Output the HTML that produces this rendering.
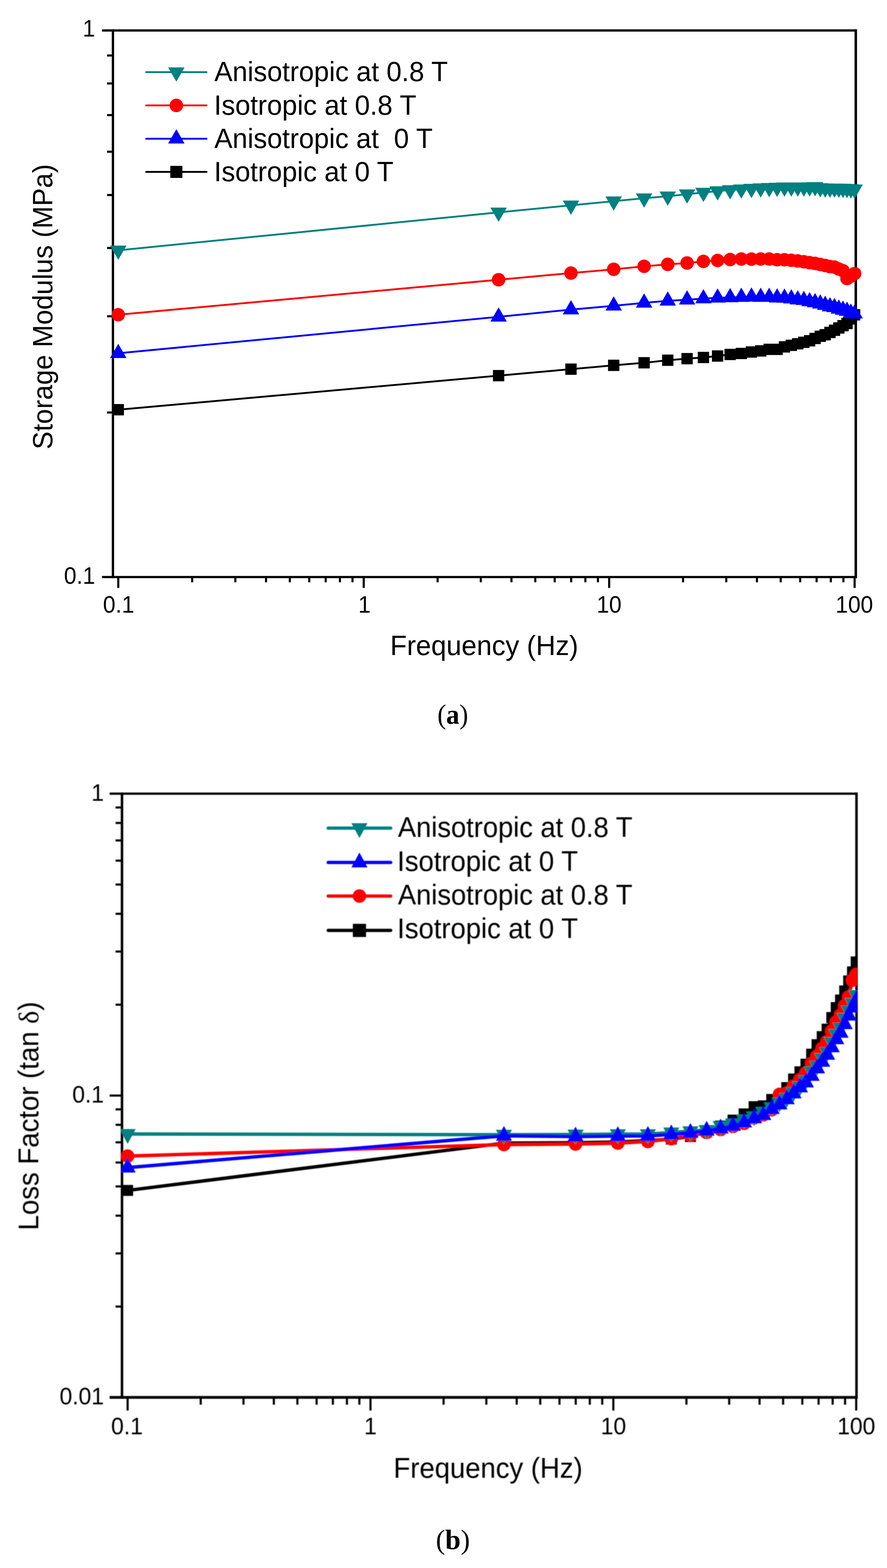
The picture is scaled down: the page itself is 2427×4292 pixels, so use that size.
<!DOCTYPE html>
<html lang="en">
<head>
<meta charset="utf-8">
<title>Storage modulus and loss factor versus frequency</title>
<style>
html,body{margin:0;padding:0;background:#fff;}
body{width:2427px;height:4292px;overflow:hidden;}
svg{display:block;}
svg text{font-family:"Liberation Sans",Arial,Helvetica,sans-serif;fill:#000;}
svg text.cap{font-family:"Liberation Serif","DejaVu Serif",serif;}
svg text.cap tspan{font-weight:bold;}
svg tspan.sym{font-family:"Liberation Serif","DejaVu Serif",serif;}
</style>
</head>
<body>
<svg width="2427" height="4292" viewBox="0 0 2427 4292">
<g id="figa">
<g fill="#000"><rect x="305.8" y="80.3" width="6.4" height="1502.2"/><rect x="2338.2" y="80.3" width="6.8" height="1502.2"/><rect x="279" y="80.3" width="2066" height="6.2"/><rect x="279" y="1576.5" width="2066" height="6"/><rect x="293" y="1126.2" width="16" height="5.8"/><rect x="293" y="862.8" width="16" height="5.8"/><rect x="293" y="675.9" width="16" height="5.8"/><rect x="293" y="530.9" width="16" height="5.8"/><rect x="293" y="412.4" width="16" height="5.8"/><rect x="293" y="312.2" width="16" height="5.8"/><rect x="293" y="225.5" width="16" height="5.8"/><rect x="293" y="149" width="16" height="5.8"/><rect x="320.7" y="1579.5" width="5.8" height="29.9"/><rect x="522.9" y="1579.5" width="5.8" height="14.3"/><rect x="641.1" y="1579.5" width="5.8" height="14.3"/><rect x="725" y="1579.5" width="5.8" height="14.3"/><rect x="790.1" y="1579.5" width="5.8" height="14.3"/><rect x="843.3" y="1579.5" width="5.8" height="14.3"/><rect x="888.3" y="1579.5" width="5.8" height="14.3"/><rect x="927.2" y="1579.5" width="5.8" height="14.3"/><rect x="961.6" y="1579.5" width="5.8" height="14.3"/><rect x="992.3" y="1579.5" width="5.8" height="29.9"/><rect x="1194.5" y="1579.5" width="5.8" height="14.3"/><rect x="1312.7" y="1579.5" width="5.8" height="14.3"/><rect x="1396.6" y="1579.5" width="5.8" height="14.3"/><rect x="1461.7" y="1579.5" width="5.8" height="14.3"/><rect x="1514.9" y="1579.5" width="5.8" height="14.3"/><rect x="1559.9" y="1579.5" width="5.8" height="14.3"/><rect x="1598.8" y="1579.5" width="5.8" height="14.3"/><rect x="1633.2" y="1579.5" width="5.8" height="14.3"/><rect x="1663.9" y="1579.5" width="5.8" height="29.9"/><rect x="1866.1" y="1579.5" width="5.8" height="14.3"/><rect x="1984.3" y="1579.5" width="5.8" height="14.3"/><rect x="2068.2" y="1579.5" width="5.8" height="14.3"/><rect x="2133.3" y="1579.5" width="5.8" height="14.3"/><rect x="2186.5" y="1579.5" width="5.8" height="14.3"/><rect x="2231.5" y="1579.5" width="5.8" height="14.3"/><rect x="2270.4" y="1579.5" width="5.8" height="14.3"/><rect x="2304.8" y="1579.5" width="5.8" height="14.3"/><rect x="2335.5" y="1579.5" width="5.8" height="29.9"/></g>
<text transform="translate(226.29,100.4) scale(0.961,1)" font-size="64">1</text>
<text transform="translate(175,1597.5) scale(0.961,1)" font-size="64">0.1</text>
<text transform="translate(281.85,1676.8) scale(0.961,1)" font-size="64">0.1</text>
<text transform="translate(980.2,1676.8) scale(0.961,1)" font-size="64">1</text>
<text transform="translate(1632.39,1676.8) scale(0.961,1)" font-size="64">10</text>
<text transform="translate(2286.29,1676.8) scale(0.961,1)" font-size="64">100</text>
<text transform="translate(142.8,1230.31) rotate(-90) scale(0.9659,1)" font-size="76.6">Storage Modulus (MPa)</text>
<text transform="translate(1067.56,1792.8) scale(0.9757,1)" font-size="76.6">Frequency (Hz)</text>
<text transform="translate(586.4,222.1) scale(0.9707,1)" font-size="76.6">Anisotropic at 0.8 T</text>
<text transform="translate(585.48,313.7) scale(0.973,1)" font-size="76.6">Isotropic at 0.8 T</text>
<text transform="translate(586.4,405) scale(0.9701,1)" font-size="76.6" xml:space="preserve">Anisotropic at  0 T</text>
<text transform="translate(585.48,496.3) scale(0.9723,1)" font-size="76.6">Isotropic at 0 T</text>
<polyline points="323.6,1121.4 1364.3,1028.2 1562.3,1010.4 1679.2,1000.1 1762.4,993.1 1827.1,986.1 1880,981.8 1924.7,978.5 1963.5,974.4 1997.8,970.3 2028.4,967.6 2056.1,963.5 2081.4,960.4 2104.7,956.2 2126.3,956.2 2146.4,949.5 2165.2,945.2 2182.8,941 2199.5,936.9 2215.2,932.8 2230.2,926.6 2244.4,920.4 2257.9,916.3 2270.9,910.1 2283.3,904 2295.2,897.8 2306.6,891.6 2317.6,885.4 2328.2,873 2338.4,861.7" fill="none" stroke="#000000" stroke-width="5" stroke-linejoin="round"/>
<path d="M308.1 1105.9h31v31h-31ZM1348.8 1012.7h31v31h-31ZM1546.8 994.9h31v31h-31ZM1663.7 984.6h31v31h-31ZM1746.9 977.6h31v31h-31ZM1811.6 970.6h31v31h-31ZM1864.5 966.3h31v31h-31ZM1909.2 963h31v31h-31ZM1948 958.9h31v31h-31ZM1982.3 954.8h31v31h-31ZM2012.9 952.1h31v31h-31ZM2040.6 948h31v31h-31ZM2065.9 944.9h31v31h-31ZM2089.2 940.7h31v31h-31ZM2110.8 940.7h31v31h-31ZM2130.9 934h31v31h-31ZM2149.7 929.7h31v31h-31ZM2167.3 925.5h31v31h-31ZM2184 921.4h31v31h-31ZM2199.7 917.3h31v31h-31ZM2214.7 911.1h31v31h-31ZM2228.9 904.9h31v31h-31ZM2242.4 900.8h31v31h-31ZM2255.4 894.6h31v31h-31ZM2267.8 888.5h31v31h-31ZM2279.7 882.3h31v31h-31ZM2291.1 876.1h31v31h-31ZM2302.1 869.9h31v31h-31ZM2312.7 857.5h31v31h-31ZM2322.9 846.2h31v31h-31Z" fill="#000000"/>
<polyline points="323.6,967 1364.3,867.2 1562.3,847.4 1679.2,837.1 1762.4,828.9 1827.1,823.5 1880,820.5 1924.7,817.3 1963.5,815.2 1997.8,814.2 2028.4,813.3 2056.1,812.5 2081.4,813.3 2104.7,813.3 2126.3,815 2146.4,815.6 2165.2,817.6 2182.8,820.3 2199.5,821.8 2215.2,825.3 2230.2,828 2244.4,831.4 2257.9,835.2 2270.9,839.3 2283.3,841.3 2295.2,845.5 2306.6,848.5 2317.6,851.6 2328.2,856.8 2338.4,858.8" fill="none" stroke="#0000ff" stroke-width="5" stroke-linejoin="round"/>
<path d="M301.1 980L346.1 980L323.6 941ZM1341.8 880.2L1386.8 880.2L1364.3 841.2ZM1539.8 860.4L1584.8 860.4L1562.3 821.4ZM1656.7 850.1L1701.7 850.1L1679.2 811.1ZM1739.9 841.9L1784.9 841.9L1762.4 802.9ZM1804.6 836.5L1849.6 836.5L1827.1 797.5ZM1857.5 833.5L1902.5 833.5L1880 794.5ZM1902.2 830.3L1947.2 830.3L1924.7 791.3ZM1941 828.2L1986 828.2L1963.5 789.2ZM1975.3 827.2L2020.3 827.2L1997.8 788.2ZM2005.9 826.3L2050.9 826.3L2028.4 787.3ZM2033.6 825.5L2078.6 825.5L2056.1 786.5ZM2058.9 826.3L2103.9 826.3L2081.4 787.3ZM2082.2 826.3L2127.2 826.3L2104.7 787.3ZM2103.8 828L2148.8 828L2126.3 789ZM2123.9 828.6L2168.9 828.6L2146.4 789.6ZM2142.7 830.6L2187.7 830.6L2165.2 791.6ZM2160.3 833.3L2205.3 833.3L2182.8 794.3ZM2177 834.8L2222 834.8L2199.5 795.8ZM2192.7 838.3L2237.7 838.3L2215.2 799.3ZM2207.7 841L2252.7 841L2230.2 802ZM2221.9 844.4L2266.9 844.4L2244.4 805.4ZM2235.4 848.2L2280.4 848.2L2257.9 809.2ZM2248.4 852.3L2293.4 852.3L2270.9 813.3ZM2260.8 854.3L2305.8 854.3L2283.3 815.3ZM2272.7 858.5L2317.7 858.5L2295.2 819.5ZM2284.1 861.5L2329.1 861.5L2306.6 822.5ZM2295.1 864.6L2340.1 864.6L2317.6 825.6ZM2305.7 869.8L2350.7 869.8L2328.2 830.8ZM2315.9 871.8L2360.9 871.8L2338.4 832.8Z" fill="#0000ff"/>
<polyline points="323.6,861.5 1364.3,765.7 1562.3,747.5 1679.2,737.2 1762.4,729 1827.1,723.6 1880,719.9 1924.7,715.5 1963.5,713 1997.8,710.5 2028.4,709 2056.1,709.3 2081.4,709 2104.7,709 2126.3,711 2146.4,711 2165.2,712.5 2182.8,714.3 2199.5,716.5 2215.2,719 2230.2,721 2244.4,724 2257.9,726.7 2270.9,729.8 2283.3,731 2295.2,736.5 2306.6,741 2317.6,762.3 2328.2,756 2338.4,748.9" fill="none" stroke="#ff0000" stroke-width="5" stroke-linejoin="round"/>
<path d="M305.1 861.5a18.5 18.5 0 1 0 37 0a18.5 18.5 0 1 0 -37 0ZM1345.8 765.7a18.5 18.5 0 1 0 37 0a18.5 18.5 0 1 0 -37 0ZM1543.8 747.5a18.5 18.5 0 1 0 37 0a18.5 18.5 0 1 0 -37 0ZM1660.7 737.2a18.5 18.5 0 1 0 37 0a18.5 18.5 0 1 0 -37 0ZM1743.9 729a18.5 18.5 0 1 0 37 0a18.5 18.5 0 1 0 -37 0ZM1808.6 723.6a18.5 18.5 0 1 0 37 0a18.5 18.5 0 1 0 -37 0ZM1861.5 719.9a18.5 18.5 0 1 0 37 0a18.5 18.5 0 1 0 -37 0ZM1906.2 715.5a18.5 18.5 0 1 0 37 0a18.5 18.5 0 1 0 -37 0ZM1945 713a18.5 18.5 0 1 0 37 0a18.5 18.5 0 1 0 -37 0ZM1979.3 710.5a18.5 18.5 0 1 0 37 0a18.5 18.5 0 1 0 -37 0ZM2009.9 709a18.5 18.5 0 1 0 37 0a18.5 18.5 0 1 0 -37 0ZM2037.6 709.3a18.5 18.5 0 1 0 37 0a18.5 18.5 0 1 0 -37 0ZM2062.9 709a18.5 18.5 0 1 0 37 0a18.5 18.5 0 1 0 -37 0ZM2086.2 709a18.5 18.5 0 1 0 37 0a18.5 18.5 0 1 0 -37 0ZM2107.8 711a18.5 18.5 0 1 0 37 0a18.5 18.5 0 1 0 -37 0ZM2127.9 711a18.5 18.5 0 1 0 37 0a18.5 18.5 0 1 0 -37 0ZM2146.7 712.5a18.5 18.5 0 1 0 37 0a18.5 18.5 0 1 0 -37 0ZM2164.3 714.3a18.5 18.5 0 1 0 37 0a18.5 18.5 0 1 0 -37 0ZM2181 716.5a18.5 18.5 0 1 0 37 0a18.5 18.5 0 1 0 -37 0ZM2196.7 719a18.5 18.5 0 1 0 37 0a18.5 18.5 0 1 0 -37 0ZM2211.7 721a18.5 18.5 0 1 0 37 0a18.5 18.5 0 1 0 -37 0ZM2225.9 724a18.5 18.5 0 1 0 37 0a18.5 18.5 0 1 0 -37 0ZM2239.4 726.7a18.5 18.5 0 1 0 37 0a18.5 18.5 0 1 0 -37 0ZM2252.4 729.8a18.5 18.5 0 1 0 37 0a18.5 18.5 0 1 0 -37 0ZM2264.8 731a18.5 18.5 0 1 0 37 0a18.5 18.5 0 1 0 -37 0ZM2276.7 736.5a18.5 18.5 0 1 0 37 0a18.5 18.5 0 1 0 -37 0ZM2288.1 741a18.5 18.5 0 1 0 37 0a18.5 18.5 0 1 0 -37 0ZM2299.1 762.3a18.5 18.5 0 1 0 37 0a18.5 18.5 0 1 0 -37 0ZM2309.7 756a18.5 18.5 0 1 0 37 0a18.5 18.5 0 1 0 -37 0ZM2319.9 748.9a18.5 18.5 0 1 0 37 0a18.5 18.5 0 1 0 -37 0Z" fill="#ff0000"/>
<polyline points="323.6,685.2 1364.3,581.3 1562.3,561.9 1679.2,550.8 1762.4,542.5 1827.1,537.2 1880,531.5 1924.7,527 1963.5,523 1997.8,520 2028.4,518 2056.1,516.3 2081.4,515 2104.7,514 2126.3,513.2 2146.4,512.6 2165.2,512.5 2182.8,512.5 2199.5,512.5 2215.2,512.3 2230.2,511.6 2244.4,514.5 2257.9,515.3 2270.9,515.5 2283.3,515.5 2295.2,515.8 2306.6,516 2317.6,516.5 2328.2,517.5 2338.4,518.2" fill="none" stroke="#008080" stroke-width="5" stroke-linejoin="round"/>
<path d="M301.1 672.2L346.1 672.2L323.6 711.2ZM1341.8 568.3L1386.8 568.3L1364.3 607.3ZM1539.8 548.9L1584.8 548.9L1562.3 587.9ZM1656.7 537.8L1701.7 537.8L1679.2 576.8ZM1739.9 529.5L1784.9 529.5L1762.4 568.5ZM1804.6 524.2L1849.6 524.2L1827.1 563.2ZM1857.5 518.5L1902.5 518.5L1880 557.5ZM1902.2 514L1947.2 514L1924.7 553ZM1941 510L1986 510L1963.5 549ZM1975.3 507L2020.3 507L1997.8 546ZM2005.9 505L2050.9 505L2028.4 544ZM2033.6 503.3L2078.6 503.3L2056.1 542.3ZM2058.9 502L2103.9 502L2081.4 541ZM2082.2 501L2127.2 501L2104.7 540ZM2103.8 500.2L2148.8 500.2L2126.3 539.2ZM2123.9 499.6L2168.9 499.6L2146.4 538.6ZM2142.7 499.5L2187.7 499.5L2165.2 538.5ZM2160.3 499.5L2205.3 499.5L2182.8 538.5ZM2177 499.5L2222 499.5L2199.5 538.5ZM2192.7 499.3L2237.7 499.3L2215.2 538.3ZM2207.7 498.6L2252.7 498.6L2230.2 537.6ZM2221.9 501.5L2266.9 501.5L2244.4 540.5ZM2235.4 502.3L2280.4 502.3L2257.9 541.3ZM2248.4 502.5L2293.4 502.5L2270.9 541.5ZM2260.8 502.5L2305.8 502.5L2283.3 541.5ZM2272.7 502.8L2317.7 502.8L2295.2 541.8ZM2284.1 503L2329.1 503L2306.6 542ZM2295.1 503.5L2340.1 503.5L2317.6 542.5ZM2305.7 504.5L2350.7 504.5L2328.2 543.5ZM2315.9 505.2L2360.9 505.2L2338.4 544.2Z" fill="#008080"/>
<line x1="400" y1="197.4" x2="565" y2="197.4" stroke="#008080" stroke-width="5" stroke-linecap="round"/><path d="M460 184.4L505 184.4L482.5 223.4Z" fill="#008080"/>
<line x1="400" y1="288.6" x2="565" y2="288.6" stroke="#ff0000" stroke-width="5" stroke-linecap="round"/><path d="M464 288.6a18.5 18.5 0 1 0 37 0a18.5 18.5 0 1 0 -37 0Z" fill="#ff0000"/>
<line x1="400" y1="379.8" x2="565" y2="379.8" stroke="#0000ff" stroke-width="5" stroke-linecap="round"/><path d="M460 392.8L505 392.8L482.5 353.8Z" fill="#0000ff"/>
<line x1="400" y1="470.5" x2="565" y2="470.5" stroke="#000000" stroke-width="5" stroke-linecap="round"/><path d="M466 454h33v33h-33Z" fill="#000000"/>
</g>
<filter id="figbblur" x="-2%" y="-2%" width="104%" height="104%"><feGaussianBlur stdDeviation="1.1"/></filter>
<g id="figb" filter="url(#figbblur)">
<g fill="#000"><rect x="330.4" y="2169.4" width="6.8" height="1659.3"/><rect x="2340.1" y="2169.4" width="6.9" height="1659.3"/><rect x="300" y="2169.4" width="2046.9" height="6.1"/><rect x="300" y="3821.2" width="2046.9" height="7.6"/><rect x="316.3" y="2747.2" width="17.5" height="5.8"/><rect x="316.3" y="2601.7" width="17.5" height="5.8"/><rect x="316.3" y="2498.4" width="17.5" height="5.8"/><rect x="316.3" y="2418.3" width="17.5" height="5.8"/><rect x="316.3" y="2352.9" width="17.5" height="5.8"/><rect x="316.3" y="2297.6" width="17.5" height="5.8"/><rect x="316.3" y="2249.7" width="17.5" height="5.8"/><rect x="316.3" y="2207.4" width="17.5" height="5.8"/><rect x="300" y="2995.9" width="33.8" height="5.8"/><rect x="316.3" y="3573.5" width="17.5" height="5.8"/><rect x="316.3" y="3428" width="17.5" height="5.8"/><rect x="316.3" y="3324.7" width="17.5" height="5.8"/><rect x="316.3" y="3244.6" width="17.5" height="5.8"/><rect x="316.3" y="3179.2" width="17.5" height="5.8"/><rect x="316.3" y="3123.9" width="17.5" height="5.8"/><rect x="316.3" y="3076" width="17.5" height="5.8"/><rect x="316.3" y="3033.7" width="17.5" height="5.8"/><rect x="346.3" y="3825" width="5.8" height="36"/><rect x="546.3" y="3825" width="5.8" height="20"/><rect x="663.3" y="3825" width="5.8" height="20"/><rect x="746.4" y="3825" width="5.8" height="20"/><rect x="810.8" y="3825" width="5.8" height="20"/><rect x="863.4" y="3825" width="5.8" height="20"/><rect x="907.9" y="3825" width="5.8" height="20"/><rect x="946.4" y="3825" width="5.8" height="20"/><rect x="980.4" y="3825" width="5.8" height="20"/><rect x="1010.8" y="3825" width="5.8" height="36"/><rect x="1210.8" y="3825" width="5.8" height="20"/><rect x="1327.8" y="3825" width="5.8" height="20"/><rect x="1410.9" y="3825" width="5.8" height="20"/><rect x="1475.3" y="3825" width="5.8" height="20"/><rect x="1527.9" y="3825" width="5.8" height="20"/><rect x="1572.4" y="3825" width="5.8" height="20"/><rect x="1610.9" y="3825" width="5.8" height="20"/><rect x="1644.9" y="3825" width="5.8" height="20"/><rect x="1675.3" y="3825" width="5.8" height="36"/><rect x="1875.3" y="3825" width="5.8" height="20"/><rect x="1992.3" y="3825" width="5.8" height="20"/><rect x="2075.4" y="3825" width="5.8" height="20"/><rect x="2139.8" y="3825" width="5.8" height="20"/><rect x="2192.4" y="3825" width="5.8" height="20"/><rect x="2236.9" y="3825" width="5.8" height="20"/><rect x="2275.4" y="3825" width="5.8" height="20"/><rect x="2309.4" y="3825" width="5.8" height="20"/><rect x="2339.8" y="3825" width="5.8" height="36"/></g>
<text transform="translate(249.76,2192.1) scale(0.961,1)" font-size="65">1</text>
<text transform="translate(197.67,3018.3) scale(0.961,1)" font-size="65">0.1</text>
<text transform="translate(162.93,3843.6) scale(0.961,1)" font-size="65">0.01</text>
<text transform="translate(304.08,3926) scale(0.961,1)" font-size="65">0.1</text>
<text transform="translate(996.13,3926) scale(0.961,1)" font-size="65">1</text>
<text transform="translate(1643.76,3926) scale(0.961,1)" font-size="65">10</text>
<text transform="translate(2290.89,3926) scale(0.961,1)" font-size="65">100</text>
<text transform="translate(104.7,3367.89) rotate(-90) scale(0.9792,1)" font-size="77">Loss Factor (tan <tspan class="sym">δ</tspan>)</text>
<text transform="translate(1076.83,4044.7) scale(0.9753,1)" font-size="77">Frequency (Hz)</text>
<text transform="translate(1088.8,2291.3) scale(0.9696,1)" font-size="77">Anisotropic at 0.8 T</text>
<text transform="translate(1086.84,2383.7) scale(0.974,1)" font-size="77">Isotropic at 0 T</text>
<text transform="translate(1088.8,2476.4) scale(0.9696,1)" font-size="77">Anisotropic at 0.8 T</text>
<text transform="translate(1086.84,2567.8) scale(0.974,1)" font-size="77">Isotropic at 0 T</text>
<clipPath id="figbclip"><rect x="331.5" y="2172.5" width="2014" height="1652.5"/></clipPath>
<g clip-path="url(#figbclip)">
<polyline points="349.2,3258.5 1378.9,3129 1574.8,3128 1690.5,3126 1772.8,3122 1836.8,3118 1889.1,3111 1933.4,3098 1971.8,3082 2005.7,3066 2036,3049 2063.4,3029.3 2088.5,3027 2111.5,3009.5 2132.8,3000 2152.7,2977 2171.3,2953.5 2188.8,2933.7 2205.2,2913 2220.8,2885.6 2235.6,2859.5 2249.7,2837.5 2263.1,2817 2275.9,2785.3 2288.1,2757.9 2299.9,2737.3 2311.2,2712.5 2322.1,2685 2332.6,2660.3 2342.7,2633" fill="none" stroke="#000000" stroke-width="9.3" stroke-linejoin="round"/>
<path d="M334.2 3243.5h30v30h-30ZM1363.9 3114h30v30h-30ZM1559.8 3113h30v30h-30ZM1675.5 3111h30v30h-30ZM1757.8 3107h30v30h-30ZM1821.8 3103h30v30h-30ZM1874.1 3096h30v30h-30ZM1918.4 3083h30v30h-30ZM1956.8 3067h30v30h-30ZM1990.7 3051h30v30h-30ZM2021 3034h30v30h-30ZM2048.4 3014.3h30v30h-30ZM2073.5 3012h30v30h-30ZM2096.5 2994.5h30v30h-30ZM2117.8 2985h30v30h-30ZM2137.7 2962h30v30h-30ZM2156.3 2938.5h30v30h-30ZM2173.8 2918.7h30v30h-30ZM2190.2 2898h30v30h-30ZM2205.8 2870.6h30v30h-30ZM2220.6 2844.5h30v30h-30ZM2234.7 2822.5h30v30h-30ZM2248.1 2802h30v30h-30ZM2260.9 2770.3h30v30h-30ZM2273.1 2742.9h30v30h-30ZM2284.9 2722.3h30v30h-30ZM2296.2 2697.5h30v30h-30ZM2307.1 2670h30v30h-30ZM2317.6 2645.3h30v30h-30ZM2327.7 2618h30v30h-30Z" fill="#000000"/>
<polyline points="349.2,3164.5 1378.9,3133 1574.8,3131.5 1690.5,3129 1772.8,3124.7 1836.8,3117 1889.1,3108 1933.4,3100 1971.8,3091.8 2005.7,3083.5 2036,3075 2063.4,3060 2088.5,3052 2111.5,3038 2132.8,2995.6 2152.7,2992.4 2171.3,2973 2188.8,2955.5 2205.2,2937.2 2220.8,2911.2 2235.6,2891.1 2249.7,2869.9 2263.1,2851.7 2275.9,2822.3 2288.1,2797.8 2299.9,2778.8 2311.2,2753.3 2322.1,2729.6 2332.6,2683 2342.7,2668" fill="none" stroke="#ff0000" stroke-width="9.3" stroke-linejoin="round"/>
<path d="M330.7 3164.5a18.5 18.5 0 1 0 37 0a18.5 18.5 0 1 0 -37 0ZM1360.4 3133a18.5 18.5 0 1 0 37 0a18.5 18.5 0 1 0 -37 0ZM1556.3 3131.5a18.5 18.5 0 1 0 37 0a18.5 18.5 0 1 0 -37 0ZM1672 3129a18.5 18.5 0 1 0 37 0a18.5 18.5 0 1 0 -37 0ZM1754.3 3124.7a18.5 18.5 0 1 0 37 0a18.5 18.5 0 1 0 -37 0ZM1818.3 3117a18.5 18.5 0 1 0 37 0a18.5 18.5 0 1 0 -37 0ZM1870.6 3108a18.5 18.5 0 1 0 37 0a18.5 18.5 0 1 0 -37 0ZM1914.9 3100a18.5 18.5 0 1 0 37 0a18.5 18.5 0 1 0 -37 0ZM1953.3 3091.8a18.5 18.5 0 1 0 37 0a18.5 18.5 0 1 0 -37 0ZM1987.2 3083.5a18.5 18.5 0 1 0 37 0a18.5 18.5 0 1 0 -37 0ZM2017.5 3075a18.5 18.5 0 1 0 37 0a18.5 18.5 0 1 0 -37 0ZM2044.9 3060a18.5 18.5 0 1 0 37 0a18.5 18.5 0 1 0 -37 0ZM2070 3052a18.5 18.5 0 1 0 37 0a18.5 18.5 0 1 0 -37 0ZM2093 3038a18.5 18.5 0 1 0 37 0a18.5 18.5 0 1 0 -37 0ZM2114.3 2995.6a18.5 18.5 0 1 0 37 0a18.5 18.5 0 1 0 -37 0ZM2134.2 2992.4a18.5 18.5 0 1 0 37 0a18.5 18.5 0 1 0 -37 0ZM2152.8 2973a18.5 18.5 0 1 0 37 0a18.5 18.5 0 1 0 -37 0ZM2170.3 2955.5a18.5 18.5 0 1 0 37 0a18.5 18.5 0 1 0 -37 0ZM2186.7 2937.2a18.5 18.5 0 1 0 37 0a18.5 18.5 0 1 0 -37 0ZM2202.3 2911.2a18.5 18.5 0 1 0 37 0a18.5 18.5 0 1 0 -37 0ZM2217.1 2891.1a18.5 18.5 0 1 0 37 0a18.5 18.5 0 1 0 -37 0ZM2231.2 2869.9a18.5 18.5 0 1 0 37 0a18.5 18.5 0 1 0 -37 0ZM2244.6 2851.7a18.5 18.5 0 1 0 37 0a18.5 18.5 0 1 0 -37 0ZM2257.4 2822.3a18.5 18.5 0 1 0 37 0a18.5 18.5 0 1 0 -37 0ZM2269.6 2797.8a18.5 18.5 0 1 0 37 0a18.5 18.5 0 1 0 -37 0ZM2281.4 2778.8a18.5 18.5 0 1 0 37 0a18.5 18.5 0 1 0 -37 0ZM2292.7 2753.3a18.5 18.5 0 1 0 37 0a18.5 18.5 0 1 0 -37 0ZM2303.6 2729.6a18.5 18.5 0 1 0 37 0a18.5 18.5 0 1 0 -37 0ZM2314.1 2683a18.5 18.5 0 1 0 37 0a18.5 18.5 0 1 0 -37 0ZM2324.2 2668a18.5 18.5 0 1 0 37 0a18.5 18.5 0 1 0 -37 0Z" fill="#ff0000"/>
<polyline points="349.2,3104 1378.9,3106 1574.8,3105.5 1690.5,3104.5 1772.8,3104.5 1836.8,3099.8 1889.1,3096.5 1933.4,3093 1971.8,3082 2005.7,3075 2036,3064 2063.4,3055.8 2088.5,3043.5 2111.5,3031 2132.8,3017.3 2152.7,3005 2171.3,2989 2188.8,2973.4 2205.2,2957 2220.8,2932.2 2235.6,2917 2249.7,2896.5 2263.1,2880 2275.9,2852.5 2288.1,2830.5 2299.9,2812.7 2311.2,2786.6 2322.1,2766 2332.6,2745.4 2342.7,2723.4" fill="none" stroke="#008080" stroke-width="9.3" stroke-linejoin="round"/>
<path d="M327.2 3090.5L371.2 3090.5L349.2 3131ZM1356.9 3092.5L1400.9 3092.5L1378.9 3133ZM1552.8 3092L1596.8 3092L1574.8 3132.5ZM1668.5 3091L1712.5 3091L1690.5 3131.5ZM1750.8 3091L1794.8 3091L1772.8 3131.5ZM1814.8 3086.3L1858.8 3086.3L1836.8 3126.8ZM1867.1 3083L1911.1 3083L1889.1 3123.5ZM1911.4 3079.5L1955.4 3079.5L1933.4 3120ZM1949.8 3068.5L1993.8 3068.5L1971.8 3109ZM1983.7 3061.5L2027.7 3061.5L2005.7 3102ZM2014 3050.5L2058 3050.5L2036 3091ZM2041.4 3042.3L2085.4 3042.3L2063.4 3082.8ZM2066.5 3030L2110.5 3030L2088.5 3070.5ZM2089.5 3017.5L2133.5 3017.5L2111.5 3058ZM2110.8 3003.8L2154.8 3003.8L2132.8 3044.3ZM2130.7 2991.5L2174.7 2991.5L2152.7 3032ZM2149.3 2975.5L2193.3 2975.5L2171.3 3016ZM2166.8 2959.9L2210.8 2959.9L2188.8 3000.4ZM2183.2 2943.5L2227.2 2943.5L2205.2 2984ZM2198.8 2918.7L2242.8 2918.7L2220.8 2959.2ZM2213.6 2903.5L2257.6 2903.5L2235.6 2944ZM2227.7 2883L2271.7 2883L2249.7 2923.5ZM2241.1 2866.5L2285.1 2866.5L2263.1 2907ZM2253.9 2839L2297.9 2839L2275.9 2879.5ZM2266.1 2817L2310.1 2817L2288.1 2857.5ZM2277.9 2799.2L2321.9 2799.2L2299.9 2839.7ZM2289.2 2773.1L2333.2 2773.1L2311.2 2813.6ZM2300.1 2752.5L2344.1 2752.5L2322.1 2793ZM2310.6 2731.9L2354.6 2731.9L2332.6 2772.4ZM2320.7 2709.9L2364.7 2709.9L2342.7 2750.4Z" fill="#008080"/>
<polyline points="349.2,3196 1378.9,3109 1574.8,3111 1690.5,3109.7 1772.8,3109.3 1836.8,3105 1889.1,3101 1933.4,3095 1971.8,3089 2005.7,3081.7 2036,3072.5 2063.4,3061 2088.5,3052.2 2111.5,3035.7 2132.8,3023.3 2152.7,3009 2171.3,2993 2188.8,2976.6 2205.2,2962.9 2220.8,2945 2235.6,2924.4 2249.7,2906.5 2263.1,2887.3 2275.9,2866.7 2288.1,2844.7 2299.9,2827 2311.2,2803.5 2322.1,2780 2332.6,2758 2342.7,2737" fill="none" stroke="#0000ff" stroke-width="9.3" stroke-linejoin="round"/>
<path d="M327.2 3209.5L371.2 3209.5L349.2 3169ZM1356.9 3122.5L1400.9 3122.5L1378.9 3082ZM1552.8 3124.5L1596.8 3124.5L1574.8 3084ZM1668.5 3123.2L1712.5 3123.2L1690.5 3082.7ZM1750.8 3122.8L1794.8 3122.8L1772.8 3082.3ZM1814.8 3118.5L1858.8 3118.5L1836.8 3078ZM1867.1 3114.5L1911.1 3114.5L1889.1 3074ZM1911.4 3108.5L1955.4 3108.5L1933.4 3068ZM1949.8 3102.5L1993.8 3102.5L1971.8 3062ZM1983.7 3095.2L2027.7 3095.2L2005.7 3054.7ZM2014 3086L2058 3086L2036 3045.5ZM2041.4 3074.5L2085.4 3074.5L2063.4 3034ZM2066.5 3065.7L2110.5 3065.7L2088.5 3025.2ZM2089.5 3049.2L2133.5 3049.2L2111.5 3008.7ZM2110.8 3036.8L2154.8 3036.8L2132.8 2996.3ZM2130.7 3022.5L2174.7 3022.5L2152.7 2982ZM2149.3 3006.5L2193.3 3006.5L2171.3 2966ZM2166.8 2990.1L2210.8 2990.1L2188.8 2949.6ZM2183.2 2976.4L2227.2 2976.4L2205.2 2935.9ZM2198.8 2958.5L2242.8 2958.5L2220.8 2918ZM2213.6 2937.9L2257.6 2937.9L2235.6 2897.4ZM2227.7 2920L2271.7 2920L2249.7 2879.5ZM2241.1 2900.8L2285.1 2900.8L2263.1 2860.3ZM2253.9 2880.2L2297.9 2880.2L2275.9 2839.7ZM2266.1 2858.2L2310.1 2858.2L2288.1 2817.7ZM2277.9 2840.5L2321.9 2840.5L2299.9 2800ZM2289.2 2817L2333.2 2817L2311.2 2776.5ZM2300.1 2793.5L2344.1 2793.5L2322.1 2753ZM2310.6 2771.5L2354.6 2771.5L2332.6 2731ZM2320.7 2750.5L2364.7 2750.5L2342.7 2710Z" fill="#0000ff"/>
</g>
<line x1="898" y1="2266.8" x2="1069" y2="2266.8" stroke="#008080" stroke-width="9" stroke-linecap="round"/><path d="M961.5 2253.3L1005.5 2253.3L983.5 2293.8Z" fill="#008080"/>
<line x1="898" y1="2360.7" x2="1069" y2="2360.7" stroke="#0000ff" stroke-width="9" stroke-linecap="round"/><path d="M961.5 2374.2L1005.5 2374.2L983.5 2333.7Z" fill="#0000ff"/>
<line x1="898" y1="2452.7" x2="1069" y2="2452.7" stroke="#ff0000" stroke-width="9" stroke-linecap="round"/><path d="M965 2452.7a18.5 18.5 0 1 0 37 0a18.5 18.5 0 1 0 -37 0Z" fill="#ff0000"/>
<line x1="898" y1="2546.7" x2="1069" y2="2546.7" stroke="#000000" stroke-width="9" stroke-linecap="round"/><path d="M965.5 2528.7h36v36h-36Z" fill="#000000"/>
</g>
<text transform="translate(1196.74,1980.6) scale(0.958,1)" font-size="75.6" class="cap">(<tspan>a</tspan>)</text>
<text transform="translate(1192.51,4239.7) scale(1.0102,1)" font-size="75.6" class="cap">(<tspan>b</tspan>)</text>
</svg>
</body>
</html>
